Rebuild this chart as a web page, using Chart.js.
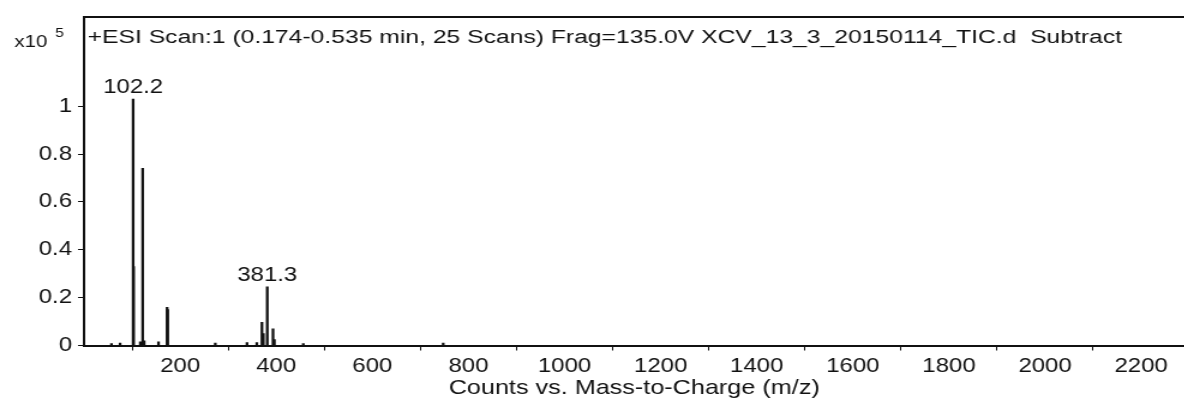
<!DOCTYPE html>
<html>
<head>
<meta charset="utf-8">
<script src="https://cdn.jsdelivr.net/npm/chart.js@4"></script>
<style>
html, body { margin: 0; padding: 0; background: #fff; overflow: hidden; }
/* the original scan is stretched sideways, so stretch the canvas the same way */
#spectrum { display: block; transform: scaleX(1.2); transform-origin: 0 0; }
</style>
</head>
<body>
<canvas id="spectrum" width="987" height="403"></canvas>
<script>
// peaks: m/z and intensity (x10^5 counts)
const peakMz = [57.1, 75.0, 102.2, 103.2, 117.1, 122.1, 125.1, 155.0, 172.9, 174.1, 273.2, 339.2, 359.6, 370.3, 373.2, 381.3, 393.3, 396.2, 456.3, 747.5];
const peakCounts = [0.008, 0.01, 1.03, 0.33, 0.015, 0.74, 0.02, 0.015, 0.16, 0.15, 0.01, 0.012, 0.012, 0.097, 0.05, 0.245, 0.07, 0.025, 0.008, 0.01];
const labelledPeaks = [102.2, 381.3];

const xTicks = [200, 400, 600, 800, 1000, 1200, 1400, 1600, 1800, 2000, 2200];
const yTicks = [0, 0.2, 0.4, 0.6, 0.8, 1];

const titleText = "+ESI Scan:1 (0.174-0.535 min, 25 Scans) Frag=135.0V XCV_13_3_20150114_TIC.d  Subtract";
const fontFamily = '"Liberation Sans", Arial, Helvetica, sans-serif';

const spectrumText = {
    id: "spectrumText",
    afterDatasetsDraw(chart) {
        const ctx = chart.ctx;
        const area = chart.chartArea;
        ctx.save();
        // top frame line
        ctx.strokeStyle = "#111";
        ctx.lineWidth = 2;
        ctx.beginPath();
        ctx.moveTo(area.left - 1, area.top);
        ctx.lineTo(area.right, area.top);
        ctx.stroke();

        ctx.fillStyle = "#111";
        ctx.textBaseline = "alphabetic";
        ctx.textAlign = "left";

        // title is wider than the font gives, squeeze it out to the scan's width
        ctx.font = "18px " + fontFamily;
        const titleWidth = ctx.measureText(titleText).width;
        const stretch = 862 / titleWidth;
        ctx.save();
        ctx.translate(area.left + 3, 43);
        ctx.scale(stretch, 1);
        ctx.fillText(titleText, 0, 0);
        ctx.restore();

        // y scale multiplier
        ctx.font = "17px " + fontFamily;
        ctx.fillText("x10", 12, 47);
        ctx.font = "13px " + fontFamily;
        ctx.fillText("5", 46, 37);

        // peak labels
        const meta = chart.getDatasetMeta(0);
        ctx.font = "20px " + fontFamily;
        ctx.textAlign = "center";
        peakMz.forEach(function (mz, i) {
            if (labelledPeaks.includes(mz)) {
                const bar = meta.data[i];
                ctx.fillText(mz.toFixed(1), bar.x, bar.y - 6);
            }
        });
        ctx.restore();
    }
};

const ctx = document.getElementById("spectrum").getContext("2d");
new Chart(ctx, {
    type: "bar",
    data: {
        datasets: [{
            data: peakMz.map(function (mz, i) { return { x: mz, y: peakCounts[i] }; }),
            backgroundColor: "#111",
            borderWidth: 0,
            barThickness: 1.6
        }]
    },
    options: {
        responsive: false,
        animation: false,
        devicePixelRatio: 1,
        layout: { padding: { top: 16, right: 0, left: 0, bottom: 0 } },
        plugins: {
            legend: { display: false },
            tooltip: { enabled: false }
        },
        scales: {
            x: {
                type: "linear",
                min: 0,
                max: 2290,
                offset: false,
                afterBuildTicks: function (scale) {
                    scale.ticks = xTicks.map(function (v) { return { value: v }; });
                },
                afterFit: function (scale) { scale.height = 57.5; },
                ticks: {
                    autoSkip: false,
                    maxRotation: 0,
                    padding: 4,
                    color: "#111",
                    font: { family: fontFamily, size: 20 },
                    callback: function (v) { return String(v); }
                },
                grid: { display: true, drawOnChartArea: false, tickLength: 5, color: "#111" },
                border: { display: true, color: "#111", width: 2 },
                title: {
                    display: true,
                    text: "Counts vs. Mass-to-Charge (m/z)",
                    color: "#111",
                    font: { family: fontFamily, size: 21 },
                    padding: { top: 0, bottom: 2 }
                }
            },
            y: {
                min: 0,
                max: 1.373,
                afterBuildTicks: function (scale) {
                    scale.ticks = yTicks.map(function (v) { return { value: v }; });
                },
                afterFit: function (scale) { scale.width = 70; },
                ticks: {
                    padding: 5,
                    color: "#111",
                    font: { family: fontFamily, size: 20 },
                    callback: function (v) { return String(v); }
                },
                grid: { display: true, drawOnChartArea: false, tickLength: 5, color: "#111" },
                border: { display: true, color: "#111", width: 2 }
            }
        }
    },
    plugins: [spectrumText]
});
</script>
</body>
</html>
